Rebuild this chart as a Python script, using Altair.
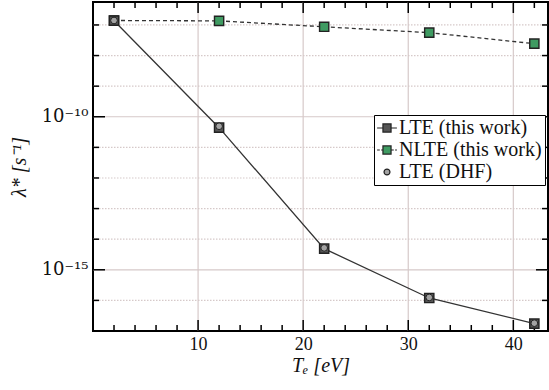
import altair as alt
import pandas as pd

# ---------------- data ----------------
te = [2, 12, 22, 32, 42]
lte_this = [1.38e-7, 4.4e-11, 4.9e-15, 1.2e-16, 1.74e-17]
nlte_this = [1.40e-7, 1.36e-7, 8.7e-8, 5.6e-8, 2.45e-8]
lte_dhf = [1.40e-7, 4.9e-11, 5.2e-15, 1.25e-16, 1.8e-17]
series = ["LTE (this work)", "NLTE (this work)", "LTE (DHF)"]

y_minor_decades = [1e-16, 1e-14, 1e-13, 1e-12, 1e-11, 1e-9, 1e-8, 1e-7]
y_major_decades = [1e-15, 1e-10]
x_major = [10, 20, 30, 40]
x_minor = [2, 4, 6, 8, 12, 14, 16, 18, 22, 24, 26, 28, 32, 34, 36, 38, 42]
x_domain = [0, 43.3]
y_domain = [1e-17, 10 ** -6.25]

# ---------------- styling ----------------
W, H = 455, 329
F1 = "Liberation Serif"
F2 = "DejaVu Serif"
F3 = "serif"
F4 = "Times New Roman"
DARK = "#222222"
GRID = "#d6c9c9"
C_LTE = "#555555"
C_NLTE = "#3f9b62"
C_DHF = "#a3a3a3"

xs = alt.Scale(domain=x_domain, nice=False, zero=False)
ys = alt.Scale(type="log", domain=y_domain, nice=False)

x_axis = alt.Axis(values=x_major, title="Tₑ [eV]", labelFont=F1, labelFontSize=18,
                  labelColor="#111", titleFont=F4, titleFontSize=20, titleFontStyle="italic",
                  titleFontWeight="normal", titleColor="#111", labelPadding=4, titlePadding=2,
                  grid=False, ticks=False, domain=False, format="d")
y_axis = alt.Axis(values=y_major_decades, title="λ* [s⁻¹]",
                  labelExpr="datum.value < 1e-12 ? '10⁻¹⁵' : '10⁻¹⁰'",
                  labelFont=F2, labelFontSize=18, labelColor="#111", titleFont=F4,
                  titleFontSize=20, titleFontStyle="italic", titleFontWeight="normal",
                  titleColor="#111", labelPadding=5, titlePadding=12,
                  grid=False, ticks=False, domain=False)


def X(field="te"):
    return alt.X(field, type="quantitative", scale=xs, axis=x_axis)


def Y(field="val"):
    return alt.Y(field, type="quantitative", scale=ys, axis=y_axis)


df_lte = pd.DataFrame({"te": te, "val": lte_this, "series": series[0]})
df_nlte = pd.DataFrame({"te": te, "val": nlte_this, "series": series[1]})
df_dhf = pd.DataFrame({"te": te, "val": lte_dhf, "series": series[2]})
df_all = pd.concat([df_lte, df_nlte, df_dhf], ignore_index=True)

df_ymin = pd.DataFrame({"val": y_minor_decades})
df_ymaj = pd.DataFrame({"val": y_major_decades})
df_xmaj = pd.DataFrame({"te": x_major})
df_xmin = pd.DataFrame({"te": x_minor})

grid_dotted = alt.Chart(df_ymin).mark_rule(color=GRID, strokeWidth=1.2, strokeDash=[1.5, 1.5]).encode(
    y=Y(), x=alt.value(0), x2=alt.value(W))
grid_solid_y = alt.Chart(df_ymaj).mark_rule(color=GRID, strokeWidth=1.2).encode(
    y=Y(), x=alt.value(0), x2=alt.value(W))
grid_solid_x = alt.Chart(df_xmaj).mark_rule(color=GRID, strokeWidth=1.2).encode(
    x=X(), y=alt.value(0), y2=alt.value(H))

tk = dict(color="black", strokeWidth=1.5)
ticks = [
    alt.Chart(df_ymin).mark_rule(**tk).encode(y=Y(), x=alt.value(0), x2=alt.value(6)),
    alt.Chart(df_ymin).mark_rule(**tk).encode(y=Y(), x=alt.value(W - 6), x2=alt.value(W)),
    alt.Chart(df_ymaj).mark_rule(**tk).encode(y=Y(), x=alt.value(0), x2=alt.value(12)),
    alt.Chart(df_ymaj).mark_rule(**tk).encode(y=Y(), x=alt.value(W - 12), x2=alt.value(W)),
    alt.Chart(df_xmin).mark_rule(**tk).encode(x=X(), y=alt.value(H - 6), y2=alt.value(H)),
    alt.Chart(df_xmin).mark_rule(**tk).encode(x=X(), y=alt.value(0), y2=alt.value(6)),
    alt.Chart(df_xmaj).mark_rule(**tk).encode(x=X(), y=alt.value(H - 11), y2=alt.value(H)),
    alt.Chart(df_xmaj).mark_rule(**tk).encode(x=X(), y=alt.value(0), y2=alt.value(11)),
]

line_lte = alt.Chart(df_lte).mark_line(color="#333333", strokeWidth=1.3).encode(x=X(), y=Y())
line_nlte = alt.Chart(df_nlte).mark_line(color="#333333", strokeWidth=1.3, strokeDash=[4, 3]).encode(
    x=X(), y=Y())

pts_nlte = alt.Chart(df_nlte).mark_square(size=85, fill=C_NLTE, stroke=DARK, strokeWidth=1.4,
                                         opacity=1).encode(x=X(), y=Y())
pts_lte = alt.Chart(df_lte).mark_square(size=85, fill=C_LTE, stroke=DARK, strokeWidth=1.4,
                                       opacity=1).encode(x=X(), y=Y())
pts_dhf = alt.Chart(df_dhf).mark_circle(size=45, fill=C_DHF, stroke=DARK, strokeWidth=1.0,
                                       opacity=1).encode(x=X(), y=Y())

path_lte = "M-1.1,0H-0.45M0.45,0H1.1M-0.45,-0.45H0.45V0.45H-0.45Z"
path_nlte = "M-1.1,0H-0.8M-0.65,0H-0.45M0.45,0H0.75M0.9,0H1.1M-0.45,-0.45H0.45V0.45H-0.45Z"
path_dhf = "M0.33,0A0.33,0.33,0,1,1,-0.33,0A0.33,0.33,0,1,1,0.33,0Z"
leg = alt.Legend(title=None, orient="none", legendX=281, legendY=113, fillColor="white",
                 strokeColor="black", padding=3, rowPadding=2, labelFont=F3,
                 labelFontSize=20, labelColor="#111", symbolSize=324,
                 symbolStrokeWidth=1.2, symbolOpacity=1, labelOffset=2, cornerRadius=0)
legend_layer = alt.Chart(df_all).mark_point(opacity=0, filled=True).encode(
    x=X(), y=Y(),
    fill=alt.Fill("series:N", scale=alt.Scale(domain=series, range=[C_LTE, C_NLTE, C_DHF]),
                  legend=leg),
    stroke=alt.Stroke("series:N", scale=alt.Scale(domain=series, range=[DARK, DARK, DARK]),
                      legend=leg),
    shape=alt.Shape("series:N", scale=alt.Scale(domain=series, range=[path_lte, path_nlte, path_dhf]),
                    legend=leg),
)

chart = alt.layer(
    grid_dotted, grid_solid_y, grid_solid_x, *ticks,
    line_lte, line_nlte, pts_nlte, pts_lte, pts_dhf, legend_layer
).properties(
    width=W, height=H,
    padding={"left": 93, "top": 2, "right": 1, "bottom": 59},
    autosize=alt.AutoSizeParams(type="none"),
    background="white",
).configure_view(stroke="black", strokeWidth=2)

chart.save("out.html", embed_options={"renderer": "svg", "actions": False})
